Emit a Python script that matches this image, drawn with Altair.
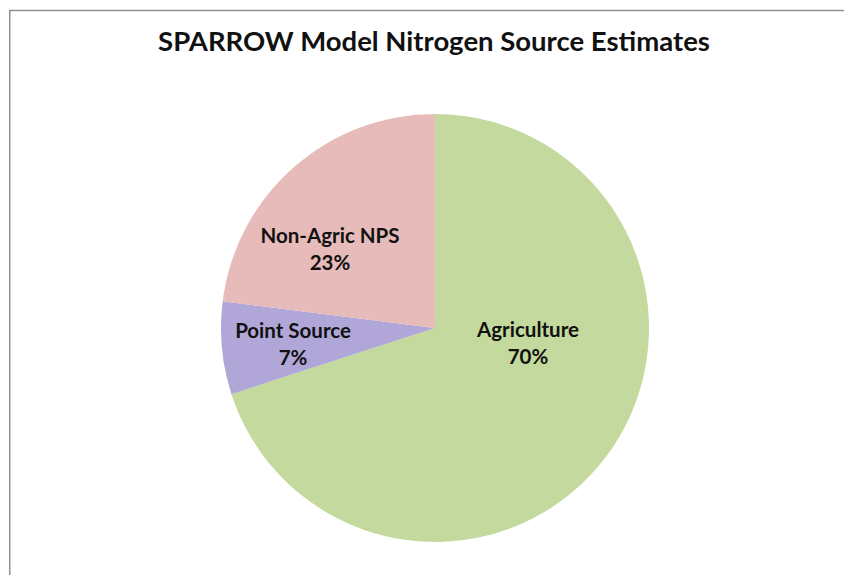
import altair as alt
import pandas as pd

title_text = "SPARROW Model Nitrogen Source Estimates"
categories = ["Agriculture", "Point Source", "Non-Agric NPS"]
shares = [70, 7, 23]
colors = ["#c4d99d", "#b0a6d8", "#e7bbba"]

df = pd.DataFrame({
    "source": categories,
    "share": shares,
    "order": list(range(len(categories))),
})
df["label"] = [f"{c}\n{s}%" for c, s in zip(categories, shares)]

W, H = 836, 567
CX, CY, R = 426, 320, 214

base = alt.Chart(df)

pie = base.mark_arc(radius=R, stroke=None).encode(
    theta=alt.Theta("share:Q", stack=True),
    order=alt.Order("order:Q"),
    color=alt.Color("source:N", scale=alt.Scale(domain=categories, range=colors), legend=None),
    x=alt.value(CX),
    y=alt.value(CY),
)

# position of the first line of each label (chart coordinates)
label_pos = {"Agriculture": (519, 323), "Point Source": (284, 324), "Non-Agric NPS": (321, 229)}
labels = []
for cat in categories:
    px, py = label_pos[cat]
    labels.append(
        base.transform_filter(alt.datum.source == cat).mark_text(
            font="Lato", fontWeight="bold", fontSize=20.5, color="#111111",
            lineBreak="\n", lineHeight=27, align="center", baseline="middle",
        ).encode(text="label:N", x=alt.value(px), y=alt.value(py))
    )

title = alt.Chart(pd.DataFrame({"t": [title_text]})).mark_text(
    font="Lato", fontWeight="bold", fontSize=27.5, color="#111111", align="center", baseline="middle"
).encode(text="t:N", x=alt.value(CX - 1), y=alt.value(35))

border_top = alt.Chart(pd.DataFrame({"a": [0]})).mark_rule(color="#8f8f8f", strokeWidth=1.5).encode(
    x=alt.value(0), x2=alt.value(W), y=alt.value(2.5)
)
border_left = alt.Chart(pd.DataFrame({"a": [0]})).mark_rule(color="#8f8f8f", strokeWidth=1.5).encode(
    x=alt.value(0.75), y=alt.value(2), y2=alt.value(H)
)

chart = alt.layer(border_top, border_left, pie, *labels, title).properties(
    width=W, height=H,
    autosize=alt.AutoSizeParams(type="fit", contains="padding"),
    padding=0,
).configure_view(stroke=None)

chart.save("out.html", embed_options={"renderer": "svg", "actions": False})
